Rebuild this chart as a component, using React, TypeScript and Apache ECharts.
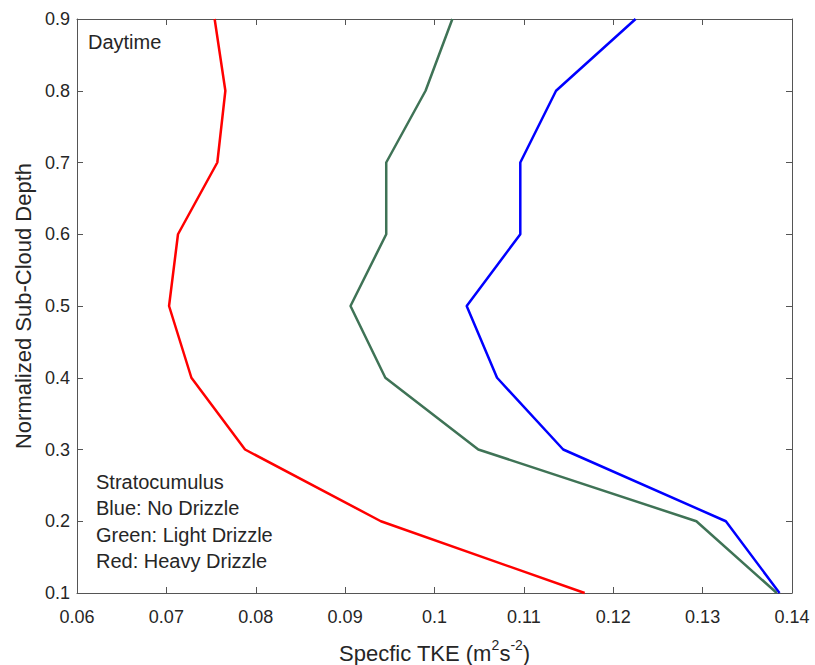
import React, { useEffect, useRef } from "react";
import * as echarts from "echarts";

const depth = [0.1, 0.2, 0.3, 0.4, 0.5, 0.6, 0.7, 0.8, 0.9];
const blueNoDrizzle = [0.1386, 0.1326, 0.1144, 0.107, 0.1036, 0.1096, 0.1096, 0.1136, 0.1225];
const greenLightDrizzle = [0.1383, 0.1293, 0.1049, 0.0945, 0.0906, 0.0946, 0.0946, 0.099, 0.102];
const redHeavyDrizzle = [0.1168, 0.094, 0.0788, 0.0728, 0.0703, 0.0713, 0.0757, 0.0766, 0.0754];
const annotationLines = ["Stratocumulus", "Blue: No Drizzle", "Green: Light Drizzle", "Red: Heavy Drizzle"];

const FONT = "'Liberation Sans', Arial, Helvetica, sans-serif";
const AXIS_COLOR = "#555555";
const TEXT_COLOR = "#262626";

export default function App() {
  const ref = useRef<HTMLDivElement>(null);
  useEffect(() => {
    if (!ref.current) return;
    const chart = echarts.init(ref.current, null, { renderer: "svg" });
    const mk = (vals: number[]) => vals.map((v, i) => [v, depth[i]]);
    const axisCommon = {
      type: "value",
      axisLine: { show: true, lineStyle: { color: AXIS_COLOR, width: 1 } },
      axisTick: { show: true, inside: true, length: 6, lineStyle: { color: AXIS_COLOR, width: 1 } },
      splitLine: { show: false },
    };
    chart.setOption({
      animation: false,
      backgroundColor: "#ffffff",
      grid: {
        left: 77,
        right: 23,
        top: 19,
        bottom: 72,
        containLabel: false,
        outerBoundsMode: "none",
      },
      xAxis: [
        {
          ...axisCommon,
          position: "bottom",
          min: 0.06,
          max: 0.14,
          interval: 0.01,
          axisLabel: {
            color: TEXT_COLOR,
            fontSize: 18,
            fontFamily: FONT,
            margin: 15,
            formatter: (v: number) => String(parseFloat(v.toFixed(2))),
          },
          name: "{n|Specfic TKE (m}{sup|2}{n|s}{sup|-2}{n|)}",
          nameLocation: "middle",
          nameGap: 45,
          nameTextStyle: {
            color: TEXT_COLOR,
            fontSize: 22,
            fontFamily: FONT,
            rich: {
              n: { fontSize: 22, fontFamily: FONT, color: TEXT_COLOR, verticalAlign: "bottom" },
              sup: {
                fontSize: 14,
                fontFamily: FONT,
                color: TEXT_COLOR,
                verticalAlign: "bottom",
                padding: [0, 0, 12, 0],
              },
            },
          },
        },
        {
          ...axisCommon,
          position: "top",
          min: 0.06,
          max: 0.14,
          interval: 0.01,
          axisLabel: { show: false },
        },
      ],
      yAxis: [
        {
          ...axisCommon,
          position: "left",
          min: 0.1,
          max: 0.9,
          interval: 0.1,
          axisLabel: {
            color: TEXT_COLOR,
            fontSize: 18,
            fontFamily: FONT,
            margin: 7,
            formatter: (v: number) => String(parseFloat(v.toFixed(1))),
          },
          name: "Normalized Sub-Cloud Depth",
          nameLocation: "middle",
          nameGap: 43,
          nameRotate: 90,
          nameTextStyle: { color: TEXT_COLOR, fontSize: 22, fontFamily: FONT },
        },
        {
          ...axisCommon,
          position: "right",
          min: 0.1,
          max: 0.9,
          interval: 0.1,
          axisLabel: { show: false },
        },
      ],
      series: [
        { name: "No Drizzle", color: "#0000ff", data: mk(blueNoDrizzle) },
        { name: "Light Drizzle", color: "#3f7356", data: mk(greenLightDrizzle) },
        { name: "Heavy Drizzle", color: "#ff0000", data: mk(redHeavyDrizzle) },
      ].map((s) => ({
        type: "line",
        name: s.name,
        data: s.data,
        showSymbol: false,
        symbol: "none",
        lineStyle: { color: s.color, width: 2.5 },
        itemStyle: { color: s.color },
        clip: false,
      })),
      graphic: [
        {
          type: "text",
          x: 88,
          y: 42,
          style: {
            text: "Daytime",
            fontSize: 20,
            fontFamily: FONT,
            fill: TEXT_COLOR,
            align: "left",
            verticalAlign: "middle",
          },
        },
        ...annotationLines.map((t, i) => ({
          type: "text",
          x: 96,
          y: 482 + i * 26.3,
          style: {
            text: t,
            fontSize: 20,
            fontFamily: FONT,
            fill: TEXT_COLOR,
            align: "left",
            verticalAlign: "middle",
          },
        })),
      ],
    });
    return () => chart.dispose();
  }, []);
  return (
    <div
      ref={ref}
      style={{ position: "absolute", left: 0, top: 0, width: 815, height: 665 }}
    />
  );
}
